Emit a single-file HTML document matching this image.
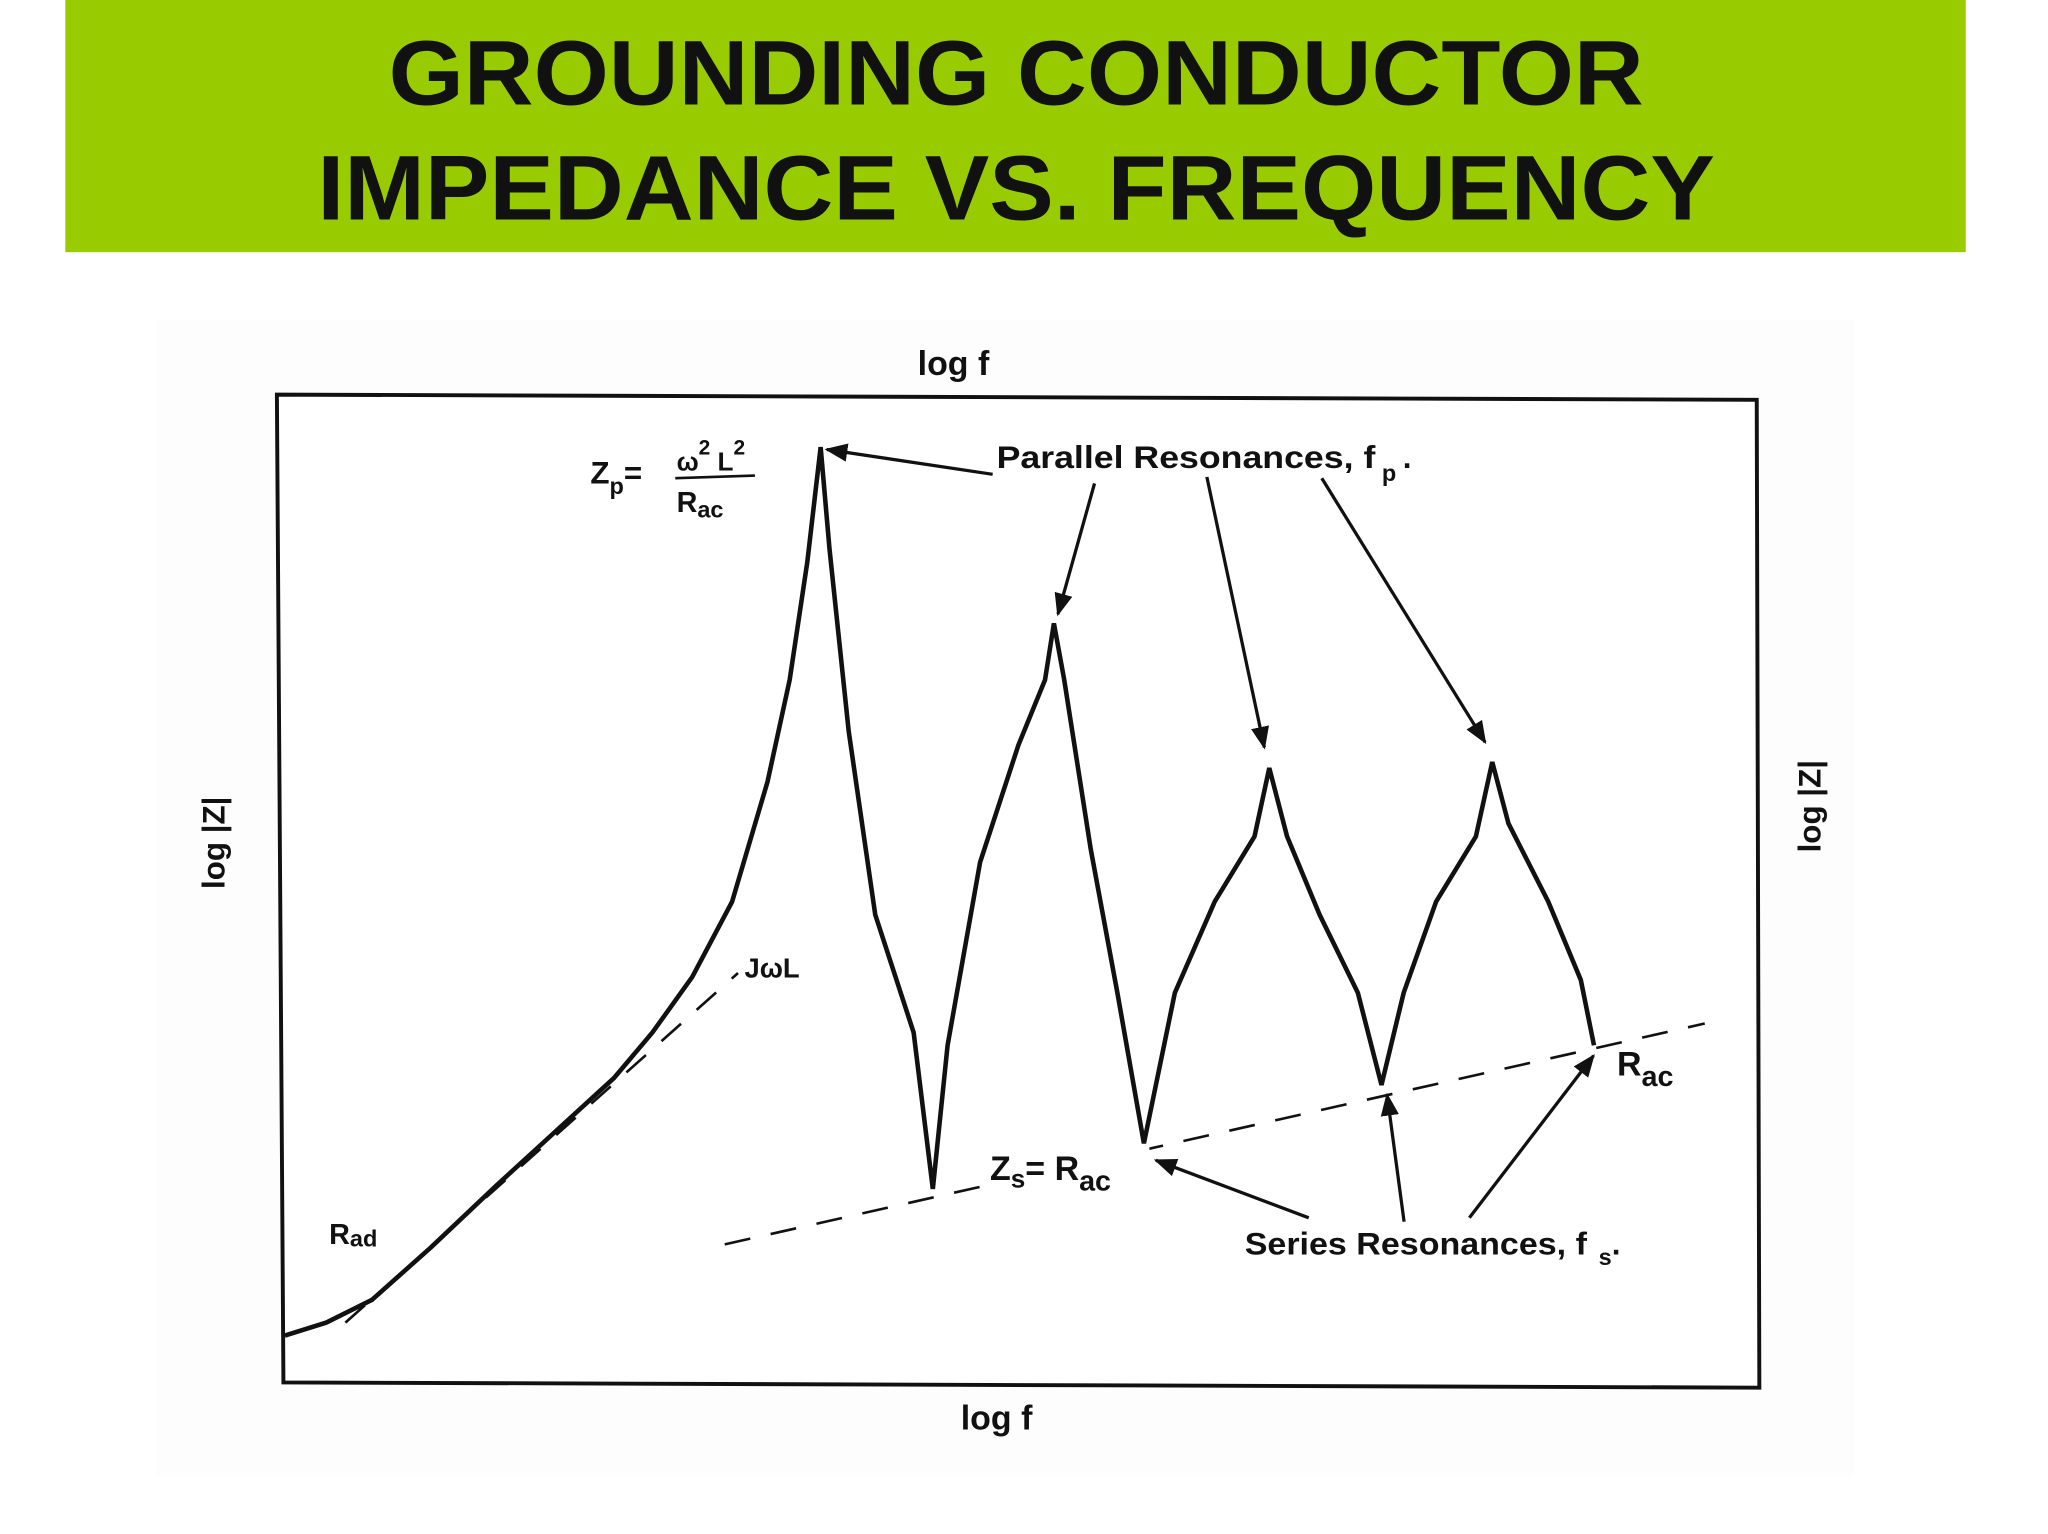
<!DOCTYPE html>
<html><head><meta charset="utf-8"><style>
html,body{margin:0;padding:0;background:#fff;}
svg{display:block;}
text{font-family:"Liberation Sans",sans-serif;font-weight:bold;fill:#111;}
</style></head><body>
<svg id="chart" width="2048" height="1534" viewBox="0 0 1568 1174" preserveAspectRatio="none" xmlns="http://www.w3.org/2000/svg">
<rect x="0" y="0" width="1568" height="1174" fill="#ffffff"/>
<rect x="50" y="0" width="1455" height="193" fill="#99cc00"/>
<text x="778" y="80" text-anchor="middle" font-size="70" textLength="961" lengthAdjust="spacingAndGlyphs">GROUNDING CONDUCTOR</text>
<text x="778" y="168" text-anchor="middle" font-size="70" textLength="1070" lengthAdjust="spacingAndGlyphs">IMPEDANCE VS. FREQUENCY</text>
<rect x="120" y="245" width="1300" height="885" fill="#fdfdfd"/>
<path d="M212,302 L1345,306 L1347,1062 L217,1058 Z" fill="#ffffff" stroke="#111" stroke-width="3"/>
<g id="marks"></g>
<defs><marker id="ah" viewBox="0 0 10 10" refX="9" refY="5" markerWidth="7" markerHeight="7" orient="auto"><path d="M0,1 L10,5 L0,9 Z" fill="#111"/></marker></defs>
<text x="730" y="287" text-anchor="middle" font-size="26">log f</text>
<text x="763" y="1094" text-anchor="middle" font-size="26">log f</text>
<text transform="translate(172,645) rotate(-90)" text-anchor="middle" font-size="24">log |Z|</text>
<text transform="translate(1394,617) rotate(-90)" text-anchor="middle" font-size="24">log |Z|</text>
<text x="763" y="358" font-size="24" textLength="290" lengthAdjust="spacingAndGlyphs">Parallel Resonances, f</text>
<text x="1058" y="368" font-size="18">p <tspan font-size="24" dy="-10">.</tspan></text>
<g>
<text x="452" y="370" font-size="24">Z<tspan font-size="18" dy="8">p</tspan><tspan dy="-8">=</tspan></text>
<text x="518" y="360" font-size="20">ω<tspan font-size="16" dy="-12">2</tspan><tspan dy="12"> L</tspan><tspan font-size="16" dy="-12">2</tspan></text>
<line x1="517" y1="366" x2="578" y2="364" stroke="#111" stroke-width="2"/>
<text x="518" y="392" font-size="22">R<tspan font-size="18" dy="4">ac</tspan></text>
</g>
<text x="570" y="748" font-size="21">JωL</text>
<text x="252" y="952" font-size="22">R<tspan font-size="18" dy="2">ad</tspan></text>
<rect x="755" y="878" width="125" height="34" fill="#fff"/>
<text x="758" y="903" font-size="26">Z<tspan font-size="20" dy="6">s</tspan><tspan dy="-6">= R</tspan><tspan font-size="22" dy="8">ac</tspan></text>
<text x="1238" y="823" font-size="26">R<tspan font-size="22" dy="8">ac</tspan></text>
<text x="953" y="960" font-size="24" textLength="262" lengthAdjust="spacingAndGlyphs">Series Resonances, f</text>
<text x="1224" y="968" font-size="18">s<tspan font-size="24" dy="-8">.</tspan></text>
</svg>
<script>
const logF = [0.01,0.29,0.60,1.00,1.44,1.88,2.24,2.50,2.77,3.04,3.28,3.43,3.55,3.64,3.70,3.83,4.01,4.27,4.40,4.50,4.72,4.98,5.16,5.22,5.29,5.47,5.65,5.83,6.04,6.31,6.58,6.68,6.80,7.02,7.28,7.44,7.59,7.81,8.08,8.19,8.30,8.57,8.79,8.88];
const logZ = [0.50,0.63,0.86,1.39,2.01,2.61,3.10,3.56,4.12,4.88,6.09,7.12,8.31,9.47,8.44,6.60,4.75,3.56,1.98,3.43,5.28,6.46,7.12,7.69,7.12,5.41,3.96,2.44,3.96,4.88,5.54,6.23,5.54,4.75,3.96,3.03,3.96,4.88,5.54,6.29,5.67,4.88,4.09,3.43];
const racLineF = [2.99,9.63];
const racLineZ = [1.42,3.65];
const jwlLineF = [0.42,3.08];
const jwlLineZ = [0.63,4.16];
const sx = v => 217 + v*113;
const sy = v => 1060 - v*75.8;
const NS = 'http://www.w3.org/2000/svg';
const g = document.getElementById('marks');
let d = logF.map((f,i)=>(i?'L':'M')+sx(f).toFixed(1)+','+sy(logZ[i]).toFixed(1)).join(' ');
const curve = document.createElementNS(NS,'path');
curve.setAttribute('d', d);
curve.setAttribute('fill','none');curve.setAttribute('stroke','#111');curve.setAttribute('stroke-width','3.5');curve.setAttribute('stroke-linejoin','miter');


g.appendChild(curve);
function dashed(fs, zs){
  const l = document.createElementNS(NS,'line');
  l.setAttribute('x1',sx(fs[0]));l.setAttribute('y1',sy(zs[0]));
  l.setAttribute('x2',sx(fs[1]));l.setAttribute('y2',sy(zs[1]));
  l.setAttribute('stroke','#111');l.setAttribute('stroke-width','2');l.setAttribute('stroke-dasharray','20 16');
  g.appendChild(l);return l;
}
const rl = dashed(racLineF, racLineZ);


const jl = dashed(jwlLineF, jwlLineZ);


const arrows = [[760,363,633,344],[838,370,810,470],[924,365,968,572],[1012,366,1137,568],[1002,932,885,888],[1075,935,1062,838],[1125,932,1220,808]];
arrows.forEach(a=>{
  const l = document.createElementNS(NS,'line');
  l.setAttribute('x1',a[0]);l.setAttribute('y1',a[1]);l.setAttribute('x2',a[2]);l.setAttribute('y2',a[3]);
  l.setAttribute('stroke','#111');l.setAttribute('stroke-width','2.5');l.setAttribute('marker-end','url(#ah)');
  
  
  g.appendChild(l);
});
</script>
</body></html>
